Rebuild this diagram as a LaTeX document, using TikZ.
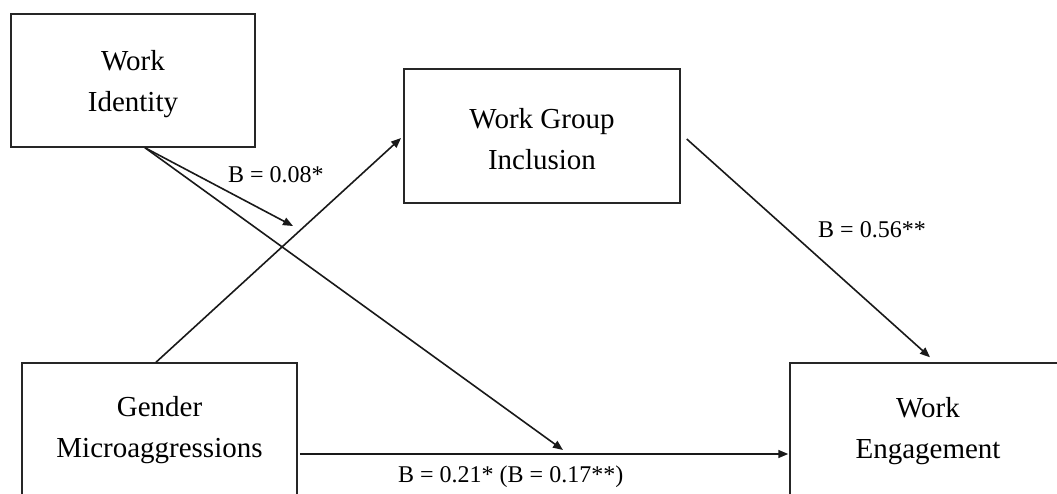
\documentclass[tikz,border=0pt]{standalone}
\usepackage{fontspec}
\setmainfont{Liberation Serif}
\usetikzlibrary{arrows.meta,calc}
\begin{document}
\begin{tikzpicture}[x=1pt,y=-1pt,
  box/.style={draw=black!85,line width=1.5pt,inner sep=0pt},
  boxtext/.style={inner sep=0pt,align=center,font=\fontsize{29}{41}\selectfont},
  lbl/.style={inner sep=0pt,anchor=base west,font=\fontsize{24}{28}\selectfont},
  arr/.style={line width=1.6pt,draw=black!90,-{Triangle[length=10pt,width=8pt]}}]
\useasboundingbox (0,0) rectangle (1057,493);
% boxes
\node[box,minimum width=244pt,minimum height=133pt] (wi) at (133,80.5) {};
\node[box,minimum width=276pt,minimum height=134pt] (wgi) at (542,136) {};
\node[box,minimum width=275pt,minimum height=134pt] (gm) at (159.5,430) {};
\node[box,minimum width=300pt,minimum height=134pt] (we) at (940,430) {};
% box texts
\node[boxtext] (wit) at (133,83.75) {Work\\Identity};
\node[boxtext] (wgit) at (542,138.75) {Work Group\\Inclusion};
\node[boxtext] (gmt) at (159.5,429.75) {Gender\\Microaggressions};
\node[boxtext] (wet) at (928,430.75) {Work\\Engagement};
% moderation targets
\coordinate (m1) at (293,226);
\coordinate (m2) at (563,450);
% connectors
\draw[arr] ($(wi.south)+(12,0)$) -- (m1);
\draw[arr] ($(wi.south)+(12,0)$) -- (m2);
\draw[arr,shorten >=3pt] ($(gm.north)+(-3.5,0)$) -- (wgi.west);
\draw[arr] ($(wgi.east)+(6,3)$) -- ($(we.north)+(-10,-5)$);
\draw[arr,shorten >=1pt] ($(gm.east)+(2,24)$) -- ($(we.west)+(0,24)$);
% labels
\node[lbl] (l1) at (228,182) {B = 0.08*};
\node[lbl] (l2) at (818,237) {B = 0.56**};
\node[lbl] (l3) at (398,482) {B = 0.21* (B = 0.17**)};
\end{tikzpicture}
\end{document}
